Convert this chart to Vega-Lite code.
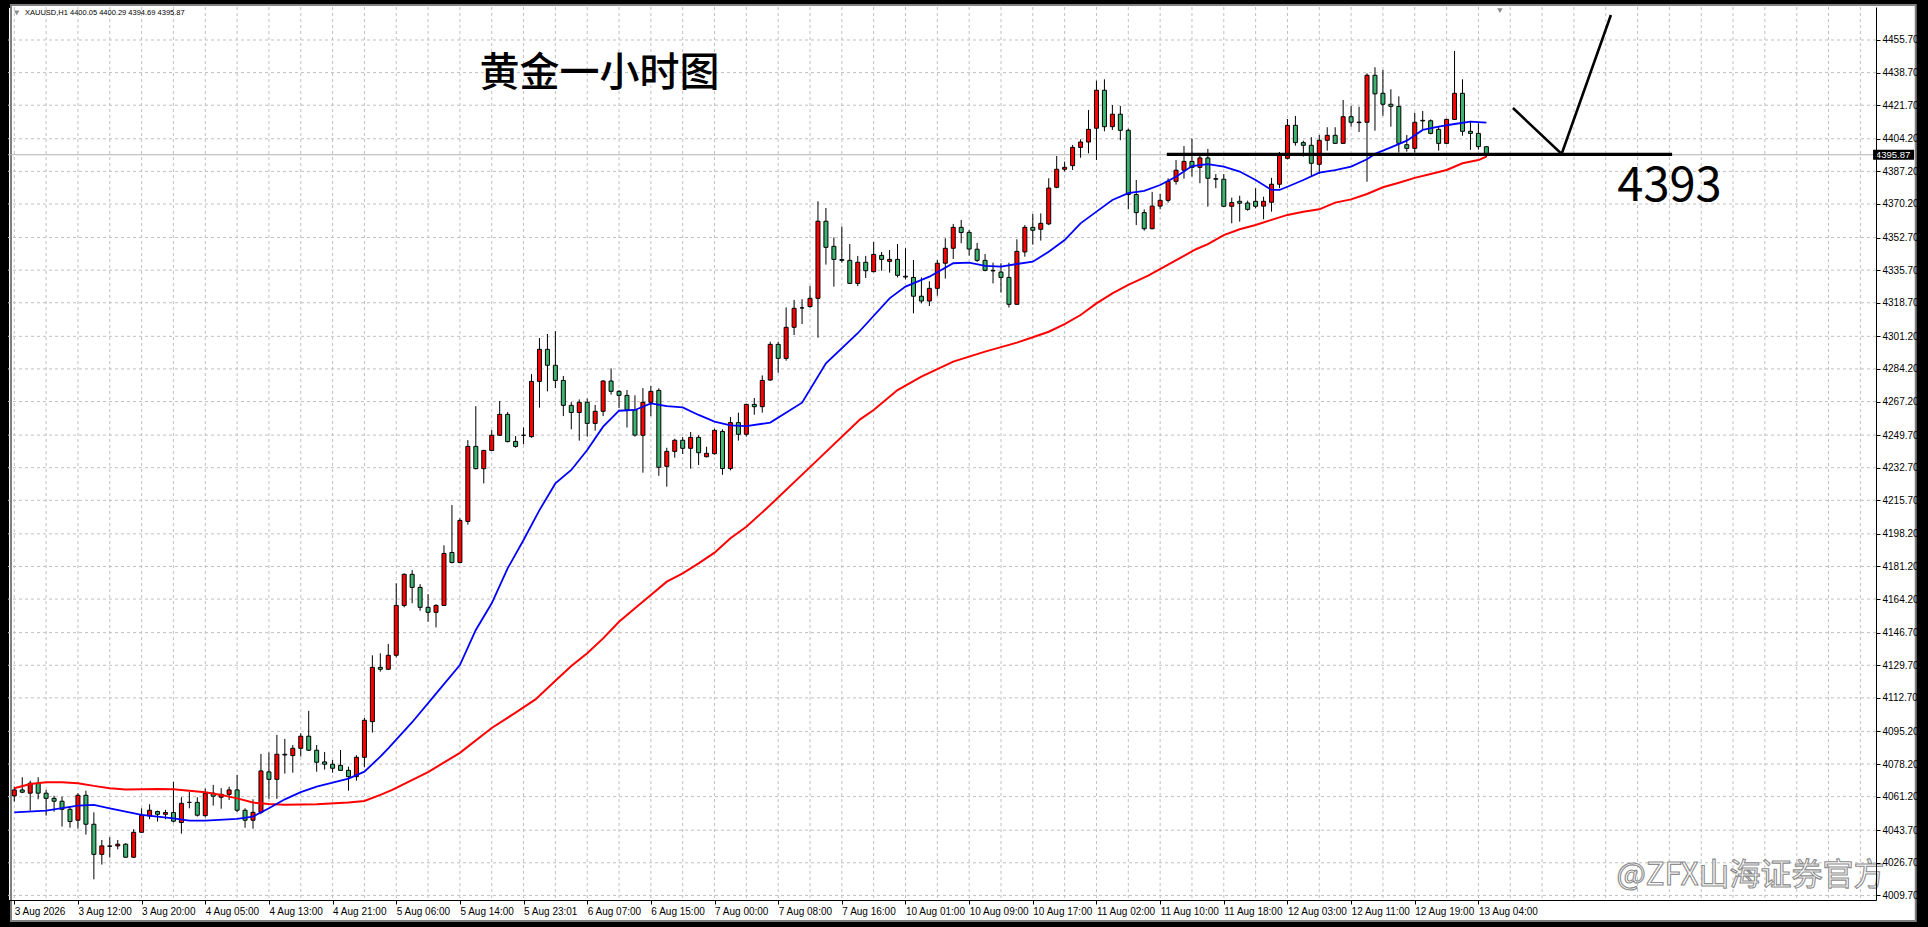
{
  "$schema": "https://vega.github.io/schema/vega-lite/v6.json",
  "width": 1868,
  "height": 893,
  "autosize": {"type": "none"},
  "padding": {"left": 8, "top": 7, "right": 52, "bottom": 27},
  "background": "#000000",
  "view": {"fill": "#ffffff", "stroke": "#000000", "strokeWidth": 1},
  "config": {"font": "Liberation Sans, sans-serif"},
  "datasets": {
    "candles": [
      {"n":0,"o":4061.6,"h":4066.4,"l":4058.6,"c":4064.7},
      {"n":1,"o":4064.7,"h":4071.3,"l":4063.0,"c":4063.5},
      {"n":2,"o":4063.0,"h":4069.5,"l":4053.9,"c":4068.2},
      {"n":3,"o":4068.2,"h":4071.3,"l":4059.8,"c":4063.0},
      {"n":4,"o":4063.0,"h":4064.7,"l":4051.3,"c":4060.3},
      {"n":5,"o":4060.3,"h":4061.6,"l":4053.4,"c":4058.8},
      {"n":6,"o":4058.8,"h":4061.2,"l":4045.6,"c":4054.6},
      {"n":7,"o":4054.6,"h":4056.0,"l":4045.0,"c":4048.2},
      {"n":8,"o":4048.9,"h":4063.0,"l":4044.5,"c":4061.9},
      {"n":9,"o":4061.9,"h":4064.3,"l":4041.4,"c":4046.8},
      {"n":10,"o":4046.8,"h":4053.0,"l":4018.1,"c":4031.1},
      {"n":11,"o":4031.1,"h":4038.6,"l":4025.8,"c":4035.5},
      {"n":12,"o":4035.5,"h":4040.0,"l":4029.4,"c":4035.3},
      {"n":13,"o":4035.5,"h":4038.6,"l":4033.7,"c":4036.4},
      {"n":14,"o":4036.4,"h":4036.9,"l":4029.4,"c":4029.6},
      {"n":15,"o":4029.6,"h":4044.2,"l":4029.2,"c":4042.6},
      {"n":16,"o":4042.6,"h":4055.1,"l":4042.4,"c":4051.5},
      {"n":17,"o":4051.1,"h":4057.2,"l":4049.4,"c":4054.1},
      {"n":18,"o":4053.4,"h":4053.9,"l":4048.2,"c":4052.0},
      {"n":19,"o":4052.0,"h":4054.3,"l":4049.4,"c":4052.9},
      {"n":20,"o":4052.9,"h":4068.9,"l":4047.7,"c":4048.4},
      {"n":21,"o":4047.7,"h":4060.9,"l":4041.9,"c":4057.7},
      {"n":22,"o":4058.2,"h":4063.6,"l":4055.1,"c":4058.2},
      {"n":23,"o":4058.2,"h":4060.9,"l":4050.8,"c":4051.5},
      {"n":24,"o":4051.3,"h":4065.4,"l":4050.4,"c":4063.0},
      {"n":25,"o":4063.0,"h":4067.3,"l":4056.5,"c":4061.4},
      {"n":26,"o":4060.9,"h":4065.6,"l":4054.9,"c":4062.4},
      {"n":27,"o":4062.4,"h":4066.4,"l":4059.5,"c":4064.7},
      {"n":28,"o":4064.7,"h":4072.5,"l":4053.2,"c":4054.1},
      {"n":29,"o":4054.1,"h":4055.1,"l":4045.0,"c":4048.9},
      {"n":30,"o":4048.9,"h":4059.8,"l":4044.5,"c":4053.0},
      {"n":31,"o":4053.0,"h":4083.5,"l":4052.0,"c":4074.6},
      {"n":32,"o":4074.1,"h":4084.2,"l":4060.0,"c":4070.2},
      {"n":33,"o":4070.2,"h":4093.4,"l":4060.0,"c":4083.3},
      {"n":34,"o":4083.3,"h":4091.3,"l":4073.2,"c":4082.9},
      {"n":35,"o":4082.6,"h":4088.1,"l":4073.7,"c":4086.4},
      {"n":36,"o":4086.4,"h":4094.2,"l":4082.1,"c":4092.7},
      {"n":37,"o":4092.7,"h":4105.9,"l":4085.0,"c":4085.4},
      {"n":38,"o":4085.4,"h":4088.1,"l":4074.2,"c":4079.1},
      {"n":39,"o":4079.3,"h":4084.5,"l":4075.3,"c":4078.1},
      {"n":40,"o":4078.1,"h":4080.3,"l":4073.7,"c":4076.0},
      {"n":41,"o":4077.5,"h":4085.5,"l":4074.6,"c":4074.9},
      {"n":42,"o":4074.9,"h":4076.8,"l":4064.3,"c":4071.6},
      {"n":43,"o":4071.6,"h":4082.8,"l":4069.5,"c":4081.7},
      {"n":44,"o":4081.7,"h":4102.2,"l":4076.5,"c":4101.0},
      {"n":45,"o":4100.3,"h":4134.9,"l":4094.6,"c":4128.6},
      {"n":46,"o":4128.6,"h":4135.9,"l":4126.4,"c":4127.6},
      {"n":47,"o":4127.6,"h":4140.8,"l":4127.2,"c":4134.9},
      {"n":48,"o":4134.9,"h":4172.4,"l":4133.8,"c":4160.9},
      {"n":49,"o":4160.9,"h":4177.6,"l":4159.9,"c":4177.1},
      {"n":50,"o":4177.1,"h":4179.3,"l":4162.0,"c":4170.3},
      {"n":51,"o":4170.3,"h":4172.0,"l":4158.1,"c":4159.9},
      {"n":52,"o":4159.9,"h":4166.8,"l":4152.4,"c":4157.3},
      {"n":53,"o":4157.3,"h":4161.5,"l":4149.4,"c":4160.9},
      {"n":54,"o":4160.9,"h":4192.2,"l":4160.6,"c":4188.0},
      {"n":55,"o":4188.5,"h":4213.2,"l":4182.8,"c":4183.3},
      {"n":56,"o":4183.3,"h":4206.3,"l":4182.8,"c":4205.2},
      {"n":57,"o":4204.7,"h":4247.1,"l":4203.0,"c":4243.8},
      {"n":58,"o":4243.8,"h":4264.8,"l":4231.8,"c":4232.2},
      {"n":59,"o":4232.2,"h":4242.0,"l":4224.5,"c":4241.7},
      {"n":60,"o":4241.7,"h":4252.3,"l":4241.4,"c":4249.6},
      {"n":61,"o":4249.6,"h":4267.5,"l":4249.2,"c":4260.5},
      {"n":62,"o":4260.5,"h":4261.7,"l":4245.9,"c":4246.3},
      {"n":63,"o":4246.4,"h":4249.2,"l":4243.1,"c":4243.8},
      {"n":64,"o":4249.6,"h":4253.7,"l":4244.9,"c":4249.6},
      {"n":65,"o":4248.9,"h":4281.5,"l":4248.3,"c":4277.7},
      {"n":66,"o":4277.7,"h":4300.3,"l":4264.0,"c":4294.4},
      {"n":67,"o":4294.4,"h":4302.4,"l":4272.5,"c":4286.1},
      {"n":68,"o":4286.1,"h":4303.9,"l":4274.2,"c":4278.2},
      {"n":69,"o":4278.2,"h":4280.5,"l":4259.6,"c":4265.2},
      {"n":70,"o":4265.2,"h":4266.9,"l":4252.7,"c":4261.5},
      {"n":71,"o":4261.5,"h":4268.3,"l":4246.8,"c":4266.8},
      {"n":72,"o":4266.8,"h":4268.7,"l":4248.9,"c":4255.8},
      {"n":73,"o":4255.8,"h":4265.4,"l":4252.0,"c":4262.1},
      {"n":74,"o":4262.1,"h":4278.4,"l":4259.6,"c":4277.9},
      {"n":75,"o":4277.9,"h":4284.5,"l":4270.8,"c":4272.5},
      {"n":76,"o":4272.5,"h":4273.2,"l":4263.8,"c":4270.4},
      {"n":77,"o":4270.4,"h":4273.2,"l":4253.6,"c":4262.9},
      {"n":78,"o":4262.9,"h":4270.4,"l":4248.9,"c":4249.7},
      {"n":79,"o":4249.6,"h":4274.2,"l":4230.1,"c":4266.8},
      {"n":80,"o":4266.8,"h":4275.3,"l":4259.6,"c":4272.5},
      {"n":81,"o":4273.0,"h":4274.1,"l":4228.5,"c":4232.9},
      {"n":82,"o":4233.4,"h":4243.1,"l":4222.8,"c":4241.2},
      {"n":83,"o":4241.2,"h":4247.8,"l":4237.9,"c":4247.0},
      {"n":84,"o":4247.0,"h":4248.7,"l":4239.8,"c":4242.8},
      {"n":85,"o":4242.8,"h":4251.3,"l":4232.2,"c":4248.5},
      {"n":86,"o":4248.5,"h":4249.6,"l":4234.1,"c":4240.5},
      {"n":87,"o":4238.4,"h":4243.6,"l":4238.1,"c":4240.2},
      {"n":88,"o":4240.0,"h":4253.1,"l":4239.5,"c":4252.2},
      {"n":89,"o":4251.6,"h":4252.7,"l":4229.0,"c":4232.3},
      {"n":90,"o":4232.3,"h":4259.1,"l":4231.3,"c":4256.2},
      {"n":91,"o":4256.2,"h":4261.4,"l":4246.8,"c":4250.1},
      {"n":92,"o":4250.1,"h":4266.0,"l":4248.9,"c":4265.7},
      {"n":93,"o":4265.7,"h":4269.0,"l":4260.3,"c":4264.5},
      {"n":94,"o":4264.5,"h":4280.8,"l":4261.4,"c":4278.2},
      {"n":95,"o":4278.4,"h":4298.4,"l":4278.1,"c":4297.0},
      {"n":96,"o":4297.0,"h":4298.4,"l":4282.2,"c":4289.7},
      {"n":97,"o":4289.7,"h":4316.3,"l":4288.5,"c":4305.9},
      {"n":98,"o":4305.9,"h":4320.2,"l":4301.9,"c":4315.8},
      {"n":99,"o":4316.0,"h":4320.5,"l":4307.6,"c":4316.0},
      {"n":100,"o":4316.7,"h":4327.4,"l":4316.2,"c":4321.0},
      {"n":101,"o":4321.0,"h":4371.6,"l":4300.5,"c":4361.2},
      {"n":102,"o":4361.2,"h":4368.1,"l":4338.6,"c":4347.6},
      {"n":103,"o":4348.1,"h":4352.8,"l":4327.1,"c":4341.3},
      {"n":104,"o":4341.2,"h":4358.4,"l":4339.6,"c":4340.8},
      {"n":105,"o":4340.8,"h":4349.3,"l":4328.6,"c":4328.8},
      {"n":106,"o":4328.8,"h":4343.1,"l":4327.4,"c":4339.8},
      {"n":107,"o":4339.8,"h":4343.1,"l":4331.6,"c":4335.4},
      {"n":108,"o":4334.9,"h":4350.4,"l":4334.6,"c":4343.9},
      {"n":109,"o":4343.4,"h":4345.2,"l":4335.4,"c":4341.3},
      {"n":110,"o":4340.3,"h":4346.2,"l":4334.4,"c":4341.3},
      {"n":111,"o":4341.3,"h":4349.3,"l":4331.9,"c":4333.0},
      {"n":112,"o":4332.5,"h":4347.1,"l":4330.9,"c":4332.1},
      {"n":113,"o":4331.9,"h":4341.0,"l":4313.2,"c":4322.1},
      {"n":114,"o":4322.1,"h":4331.9,"l":4318.4,"c":4319.6},
      {"n":115,"o":4319.6,"h":4329.9,"l":4317.0,"c":4326.2},
      {"n":116,"o":4326.2,"h":4341.0,"l":4322.4,"c":4339.3},
      {"n":117,"o":4339.3,"h":4352.3,"l":4331.3,"c":4347.1},
      {"n":118,"o":4347.1,"h":4359.8,"l":4341.5,"c":4358.0},
      {"n":119,"o":4358.0,"h":4361.9,"l":4349.7,"c":4355.3},
      {"n":120,"o":4355.4,"h":4356.6,"l":4343.3,"c":4346.7},
      {"n":121,"o":4346.6,"h":4349.9,"l":4340.0,"c":4340.8},
      {"n":122,"o":4340.8,"h":4344.1,"l":4335.1,"c":4335.6},
      {"n":123,"o":4335.6,"h":4339.6,"l":4328.8,"c":4335.3},
      {"n":124,"o":4334.7,"h":4339.3,"l":4324.0,"c":4331.9},
      {"n":125,"o":4331.9,"h":4339.6,"l":4316.2,"c":4317.9},
      {"n":126,"o":4317.9,"h":4351.8,"l":4317.6,"c":4345.5},
      {"n":127,"o":4345.2,"h":4359.2,"l":4342.7,"c":4358.0},
      {"n":128,"o":4358.0,"h":4365.0,"l":4349.0,"c":4356.5},
      {"n":129,"o":4357.0,"h":4365.3,"l":4351.1,"c":4360.1},
      {"n":130,"o":4359.8,"h":4383.6,"l":4359.2,"c":4378.5},
      {"n":131,"o":4378.9,"h":4395.2,"l":4378.4,"c":4388.3},
      {"n":132,"o":4388.3,"h":4392.3,"l":4387.1,"c":4389.3},
      {"n":133,"o":4390.2,"h":4401.0,"l":4387.9,"c":4399.7},
      {"n":134,"o":4399.7,"h":4403.9,"l":4394.3,"c":4402.5},
      {"n":135,"o":4402.5,"h":4419.2,"l":4396.6,"c":4409.1},
      {"n":136,"o":4409.7,"h":4434.5,"l":4393.1,"c":4429.5},
      {"n":137,"o":4429.5,"h":4435.2,"l":4408.1,"c":4410.5},
      {"n":138,"o":4410.5,"h":4421.8,"l":4408.8,"c":4417.0},
      {"n":139,"o":4417.0,"h":4421.3,"l":4403.4,"c":4408.6},
      {"n":140,"o":4408.6,"h":4409.5,"l":4367.4,"c":4375.1},
      {"n":141,"o":4375.1,"h":4382.7,"l":4359.2,"c":4365.7},
      {"n":142,"o":4365.7,"h":4367.4,"l":4356.3,"c":4357.3},
      {"n":143,"o":4357.3,"h":4376.5,"l":4357.0,"c":4369.1},
      {"n":144,"o":4369.1,"h":4375.4,"l":4367.4,"c":4372.1},
      {"n":145,"o":4372.1,"h":4383.6,"l":4370.9,"c":4382.0},
      {"n":146,"o":4382.0,"h":4393.1,"l":4380.3,"c":4387.8},
      {"n":147,"o":4387.8,"h":4400.4,"l":4383.4,"c":4392.4},
      {"n":148,"o":4392.4,"h":4404.3,"l":4384.5,"c":4389.3},
      {"n":149,"o":4389.3,"h":4395.9,"l":4381.0,"c":4394.2},
      {"n":150,"o":4394.2,"h":4398.9,"l":4368.8,"c":4383.6},
      {"n":151,"o":4383.4,"h":4385.8,"l":4378.4,"c":4383.1},
      {"n":152,"o":4383.1,"h":4385.8,"l":4368.8,"c":4369.0},
      {"n":153,"o":4369.0,"h":4373.5,"l":4360.1,"c":4370.9},
      {"n":154,"o":4371.6,"h":4374.5,"l":4361.0,"c":4370.6},
      {"n":155,"o":4370.7,"h":4371.9,"l":4366.7,"c":4367.4},
      {"n":156,"o":4371.6,"h":4378.4,"l":4367.9,"c":4369.0},
      {"n":157,"o":4369.1,"h":4374.0,"l":4362.2,"c":4371.6},
      {"n":158,"o":4371.1,"h":4383.8,"l":4366.2,"c":4380.5},
      {"n":159,"o":4380.5,"h":4397.3,"l":4378.4,"c":4395.8},
      {"n":160,"o":4394.0,"h":4414.5,"l":4393.5,"c":4411.2},
      {"n":161,"o":4411.2,"h":4416.1,"l":4400.6,"c":4402.2},
      {"n":162,"o":4402.2,"h":4403.2,"l":4394.9,"c":4400.8},
      {"n":163,"o":4400.8,"h":4405.0,"l":4384.5,"c":4391.4},
      {"n":164,"o":4390.9,"h":4406.2,"l":4385.8,"c":4403.4},
      {"n":165,"o":4403.4,"h":4410.2,"l":4398.0,"c":4406.0},
      {"n":166,"o":4406.0,"h":4410.2,"l":4401.7,"c":4401.8},
      {"n":167,"o":4401.8,"h":4424.4,"l":4401.7,"c":4415.7},
      {"n":168,"o":4415.7,"h":4421.3,"l":4410.5,"c":4412.8},
      {"n":169,"o":4412.9,"h":4420.9,"l":4407.7,"c":4412.6},
      {"n":170,"o":4412.8,"h":4438.3,"l":4381.8,"c":4437.3},
      {"n":171,"o":4437.3,"h":4441.5,"l":4408.4,"c":4427.6},
      {"n":172,"o":4427.9,"h":4440.1,"l":4416.2,"c":4422.2},
      {"n":173,"o":4422.2,"h":4430.0,"l":4410.5,"c":4421.1},
      {"n":174,"o":4421.1,"h":4426.3,"l":4397.0,"c":4401.8},
      {"n":175,"o":4401.1,"h":4406.2,"l":4397.5,"c":4399.2},
      {"n":176,"o":4399.2,"h":4417.8,"l":4397.0,"c":4412.8},
      {"n":177,"o":4413.8,"h":4418.7,"l":4408.8,"c":4413.5},
      {"n":178,"o":4413.6,"h":4414.3,"l":4406.5,"c":4407.0},
      {"n":179,"o":4409.1,"h":4410.5,"l":4398.0,"c":4401.8},
      {"n":180,"o":4401.8,"h":4414.7,"l":4401.3,"c":4414.3},
      {"n":181,"o":4414.3,"h":4450.0,"l":4414.0,"c":4427.9},
      {"n":182,"o":4427.9,"h":4435.2,"l":4405.8,"c":4408.1},
      {"n":183,"o":4408.1,"h":4413.5,"l":4398.4,"c":4407.0},
      {"n":184,"o":4407.0,"h":4412.3,"l":4398.5,"c":4400.1},
      {"n":185,"o":4400.05,"h":4400.29,"l":4394.69,"c":4395.87}
    ],
    "maFast": [
      {"n":0,"v":4053.0},{"n":4,"v":4053.9},{"n":8,"v":4056.5},{"n":10,"v":4056.9},{"n":12,"v":4055.1},
      {"n":16,"v":4051.7},{"n":20,"v":4049.9},{"n":22,"v":4048.7},{"n":24,"v":4048.7},{"n":28,"v":4049.6},
      {"n":30,"v":4050.8},{"n":32,"v":4055.1},{"n":34,"v":4059.8},{"n":36,"v":4063.5},{"n":38,"v":4066.4},
      {"n":40,"v":4068.5},{"n":42,"v":4070.6},{"n":44,"v":4074.2},{"n":46,"v":4082.1},{"n":47,"v":4086.4},
      {"n":50,"v":4100.0},{"n":52.4,"v":4111.9},{"n":56,"v":4129.8},{"n":58,"v":4148.1},{"n":60,"v":4162.0},
      {"n":62,"v":4180.2},{"n":64,"v":4195.0},{"n":66,"v":4210.6},{"n":68,"v":4224.5},{"n":70,"v":4231.5},
      {"n":72,"v":4241.9},{"n":74,"v":4254.1},{"n":76,"v":4262.4},{"n":78,"v":4262.8},{"n":80,"v":4266.2},
      {"n":82,"v":4264.8},{"n":84,"v":4264.1},{"n":86,"v":4260.2},{"n":88,"v":4256.7},{"n":90,"v":4254.8},
      {"n":92,"v":4254.4},{"n":95,"v":4256.2},{"n":99,"v":4266.6},{"n":102,"v":4287.1},{"n":106,"v":4302.8},
      {"n":110,"v":4321.0},{"n":112,"v":4327.1},{"n":115,"v":4332.3},{"n":118,"v":4339.3},{"n":120,"v":4339.6},
      {"n":122,"v":4337.9},{"n":124,"v":4337.5},{"n":126,"v":4338.9},{"n":128,"v":4340.1},{"n":130,"v":4345.3},
      {"n":132,"v":4351.4},{"n":134,"v":4360.1},{"n":136,"v":4366.2},{"n":138,"v":4372.3},{"n":140,"v":4375.8},
      {"n":142,"v":4377.0},{"n":144,"v":4380.1},{"n":146,"v":4384.4},{"n":148,"v":4390.0},{"n":150,"v":4391.0},
      {"n":152,"v":4389.7},{"n":154,"v":4387.1},{"n":156,"v":4382.7},{"n":158,"v":4377.5},{"n":159,"v":4377.5},
      {"n":160,"v":4379.2},{"n":162,"v":4382.7},{"n":164,"v":4386.5},{"n":166,"v":4387.9},{"n":168,"v":4389.7},
      {"n":170,"v":4393.5},{"n":171,"v":4396.3},{"n":173,"v":4399.7},{"n":175,"v":4403.2},{"n":177,"v":4408.8},
      {"n":179,"v":4410.5},{"n":181,"v":4411.9},{"n":183,"v":4413.1},{"n":185,"v":4412.6}
    ],
    "maSlow": [
      {"n":0,"v":4065.6},{"n":2,"v":4067.8},{"n":4,"v":4068.7},{"n":6,"v":4068.7},{"n":8,"v":4068.2},
      {"n":10,"v":4066.8},{"n":12,"v":4065.6},{"n":14,"v":4064.9},{"n":18,"v":4065.2},{"n":20,"v":4065.0},
      {"n":22,"v":4064.3},{"n":24,"v":4063.5},{"n":26,"v":4062.1},{"n":28,"v":4060.3},{"n":30,"v":4058.1},
      {"n":32,"v":4057.4},{"n":34,"v":4056.9},{"n":38,"v":4057.2},{"n":42,"v":4058.1},{"n":44,"v":4058.9},
      {"n":46,"v":4062.1},{"n":47.5,"v":4064.7},{"n":52,"v":4074.0},{"n":56,"v":4084.0},{"n":60,"v":4097.0},
      {"n":63,"v":4105.0},{"n":65.5,"v":4111.9},{"n":68,"v":4121.6},{"n":70,"v":4129.3},{"n":72,"v":4135.9},
      {"n":74,"v":4143.7},{"n":76,"v":4152.4},{"n":78,"v":4159.4},{"n":80,"v":4166.3},{"n":82,"v":4173.3},
      {"n":84,"v":4177.6},{"n":86,"v":4182.8},{"n":88,"v":4188.4},{"n":90,"v":4195.9},{"n":92,"v":4201.9},
      {"n":95,"v":4213.2},{"n":100,"v":4233.0},{"n":106.3,"v":4257.9},{"n":108,"v":4262.8},{"n":111,"v":4273.2},
      {"n":114,"v":4280.2},{"n":118,"v":4288.0},{"n":122,"v":4293.2},{"n":126,"v":4297.9},{"n":128,"v":4300.7},
      {"n":130,"v":4303.6},{"n":132,"v":4307.6},{"n":134,"v":4312.3},{"n":136,"v":4318.4},{"n":138,"v":4323.6},
      {"n":140,"v":4328.0},{"n":142.5,"v":4332.8},{"n":148.5,"v":4346.6},{"n":150,"v":4349.3},{"n":152,"v":4354.0},
      {"n":154,"v":4357.0},{"n":156,"v":4359.2},{"n":158,"v":4361.9},{"n":160,"v":4364.5},{"n":162,"v":4366.2},
      {"n":164,"v":4367.4},{"n":166,"v":4370.9},{"n":168,"v":4372.6},{"n":170,"v":4375.4},{"n":172,"v":4378.9},
      {"n":174,"v":4381.3},{"n":176,"v":4383.8},{"n":178,"v":4385.8},{"n":180,"v":4387.9},{"n":182,"v":4391.4},
      {"n":184,"v":4393.1},{"n":185,"v":4394.9}
    ],
    "gridX": [
      {"n":0},{"n":4},{"n":8},{"n":12},{"n":16},{"n":20},{"n":24},{"n":28},{"n":32},{"n":36},
      {"n":40},{"n":44},{"n":48},{"n":52},{"n":56},{"n":60},{"n":64},{"n":68},{"n":72},{"n":76},
      {"n":80},{"n":84},{"n":88},{"n":92},{"n":96},{"n":100},{"n":104},{"n":108},{"n":112},{"n":116},
      {"n":120},{"n":124},{"n":128},{"n":132},{"n":136},{"n":140},{"n":144},{"n":148},{"n":152},{"n":156},
      {"n":160},{"n":164},{"n":168},{"n":172},{"n":176},{"n":180},{"n":184},{"n":188},{"n":192},{"n":196},
      {"n":200},{"n":204},{"n":208},{"n":212},{"n":216},{"n":220},{"n":224},{"n":228},{"n":232}
    ],
    "gridY": [
      {"v":4455.7},{"v":4438.7},{"v":4421.7},{"v":4404.2},{"v":4387.2},{"v":4370.2},{"v":4352.7},
      {"v":4335.7},{"v":4318.7},{"v":4301.2},{"v":4284.2},{"v":4267.2},{"v":4249.7},{"v":4232.7},
      {"v":4215.7},{"v":4198.2},{"v":4181.2},{"v":4164.2},{"v":4146.7},{"v":4129.7},{"v":4112.7},
      {"v":4095.2},{"v":4078.2},{"v":4061.2},{"v":4043.7},{"v":4026.7},{"v":4009.7}
    ]
  },
  "encoding": {
    "x": {
      "type": "quantitative",
      "title": null,
      "scale": {"domain": [-0.1625, 233.3375], "nice": false, "zero": false},
      "axis": {
        "values": [0, 8, 16, 24, 32, 40, 48, 56, 64, 72, 80, 88, 96, 104, 112, 120, 128, 136, 144, 152, 160, 168, 176, 184],
        "labelExpr": "['3 Aug 2026','3 Aug 12:00','3 Aug 20:00','4 Aug 05:00','4 Aug 13:00','4 Aug 21:00','5 Aug 06:00','5 Aug 14:00','5 Aug 23:01','6 Aug 07:00','6 Aug 15:00','7 Aug 00:00','7 Aug 08:00','7 Aug 16:00','10 Aug 01:00','10 Aug 09:00','10 Aug 17:00','11 Aug 02:00','11 Aug 10:00','11 Aug 18:00','12 Aug 03:00','12 Aug 11:00','12 Aug 19:00','13 Aug 04:00'][round(datum.value / 8)]",
        "title": null,
        "grid": false,
        "zindex": 1,
        "labelAlign": "left",
        "labelBaseline": "top",
        "labelDx": 1,
        "labelPadding": 2,
        "labelFontSize": 10,
        "labelColor": "#000000",
        "labelOverlap": false,
        "labelFlush": false,
        "labelBound": false,
        "tickColor": "#000000",
        "tickSize": 4,
        "domainColor": "#000000"
      }
    },
    "y": {
      "type": "quantitative",
      "title": null,
      "scale": {"domain": [4007.3, 4472.9], "nice": false, "zero": false},
      "axis": {
        "orient": "right",
        "values": [4455.7, 4438.7, 4421.7, 4404.2, 4387.2, 4370.2, 4352.7, 4335.7, 4318.7, 4301.2, 4284.2, 4267.2, 4249.7, 4232.7, 4215.7, 4198.2, 4181.2, 4164.2, 4146.7, 4129.7, 4112.7, 4095.2, 4078.2, 4061.2, 4043.7, 4026.7, 4009.7],
        "format": ".2f",
        "title": null,
        "grid": false,
        "zindex": 1,
        "labelAlign": "left",
        "labelBaseline": "middle",
        "labelPadding": 2,
        "labelFontSize": 10,
        "labelColor": "#000000",
        "labelOverlap": false,
        "labelFlush": false,
        "labelBound": false,
        "tickColor": "#000000",
        "tickSize": 4,
        "domainColor": "#000000"
      }
    }
  },
  "layer": [
    {
      "data": {"values": [{"n1": -0.4125, "n2": 238.96, "p1": 4473.9, "p2": 3996.4}]},
      "mark": {"type": "rect", "fill": "#ffffff", "stroke": "#808080", "strokeWidth": 2},
      "encoding": {
        "x": {"field": "n1"},
        "x2": {"field": "n2"},
        "y": {"field": "p1"},
        "y2": {"field": "p2"}
      }
    },
    {
      "data": {"name": "gridX"},
      "mark": {"type": "rule", "color": "#c0c0c0", "strokeWidth": 1, "strokeDash": [3, 3]},
      "encoding": {
        "x": {"field": "n"},
        "y": null
      }
    },
    {
      "data": {"name": "gridY"},
      "mark": {"type": "rule", "color": "#c0c0c0", "strokeWidth": 1, "strokeDash": [3, 3]},
      "encoding": {
        "x": null,
        "y": {"field": "v"}
      }
    },
    {
      "data": {"values": [{"p": 4395.87}]},
      "mark": {"type": "rule", "color": "#b4b4b4", "strokeWidth": 1},
      "encoding": {
        "x": null,
        "y": {"field": "p"}
      }
    },
    {
      "data": {"name": "candles"},
      "mark": {"type": "rule", "color": "#000000", "strokeWidth": 1},
      "encoding": {
        "x": {"field": "n"},
        "y": {"field": "l"},
        "y2": {"field": "h"}
      }
    },
    {
      "data": {"name": "candles"},
      "mark": {"type": "bar", "orient": "vertical", "width": 4, "stroke": "#000000", "strokeWidth": 1},
      "encoding": {
        "x": {"field": "n"},
        "y": {"field": "o"},
        "y2": {"field": "c"},
        "color": {"condition": {"test": "datum.c > datum.o", "value": "#ff0000"}, "value": "#3cb371"}
      }
    },
    {
      "data": {"name": "maSlow"},
      "mark": {"type": "line", "color": "#ff0000", "strokeWidth": 2},
      "encoding": {
        "x": {"field": "n"},
        "y": {"field": "v"}
      }
    },
    {
      "data": {"name": "maFast"},
      "mark": {"type": "line", "color": "#0000ff", "strokeWidth": 1.8},
      "encoding": {
        "x": {"field": "n"},
        "y": {"field": "v"}
      }
    },
    {
      "data": {"values": [{"n1": 144.84, "n2": 208.34, "p": 4396.05}]},
      "mark": {"type": "rule", "color": "#000000", "strokeWidth": 3.3},
      "encoding": {
        "x": {"field": "n1"},
        "x2": {"field": "n2"},
        "y": {"field": "p"}
      }
    },
    {
      "data": {"values": [{"i": 1, "n": 188.34, "p": 4420.24}, {"i": 2, "n": 194.46, "p": 4396.26}, {"i": 3, "n": 200.65, "p": 4468.73}]},
      "mark": {"type": "line", "color": "#000000", "strokeWidth": 2.6},
      "encoding": {
        "x": {"field": "n"},
        "y": {"field": "p"},
        "order": {"field": "i", "type": "quantitative"}
      }
    },
    {
      "data": {"values": [{"n": 58.46, "p": 4437.97, "t": "黄金一小时图"}]},
      "mark": {"type": "text", "font": "Noto Sans CJK SC", "fontSize": 40, "fontWeight": 500, "align": "left", "baseline": "middle", "color": "#000000"},
      "encoding": {
        "x": {"field": "n"},
        "y": {"field": "p"},
        "text": {"field": "t"}
      }
    },
    {
      "data": {"values": [{"n": 201.46, "p": 4379.05, "t": "4393"}]},
      "mark": {"type": "text", "font": "Noto Sans CJK SC", "fontSize": 47, "align": "left", "baseline": "middle", "color": "#000000"},
      "encoding": {
        "x": {"field": "n"},
        "y": {"field": "p"},
        "text": {"field": "t"}
      }
    },
    {
      "data": {"values": [{"n": 1.34, "p": 4469.8, "t": "XAUUSD,H1  4400.05 4400.29 4394.69 4395.87"}]},
      "mark": {"type": "text", "fontSize": 7.5, "align": "left", "baseline": "middle", "color": "#000000"},
      "encoding": {
        "x": {"field": "n"},
        "y": {"field": "p"},
        "text": {"field": "t"}
      }
    },
    {
      "data": {"values": [{"n": 0.3, "p": 4469.8}, {"n": 186.7, "p": 4471.0}]},
      "mark": {"type": "point", "shape": "triangle-down", "filled": true, "size": 30, "color": "#8c8c8c", "opacity": 1},
      "encoding": {
        "x": {"field": "n"},
        "y": {"field": "p"}
      }
    },
    {
      "data": {"values": [{"n": 201.34, "p": 4020.0, "t": "@ZFX山海证券官方"}]},
      "mark": {"type": "text", "font": "Noto Sans CJK SC", "fontSize": 31, "align": "left", "baseline": "middle", "fill": "#ffffff", "stroke": "#8c8c8c", "strokeWidth": 1.1},
      "encoding": {
        "x": {"field": "n"},
        "y": {"field": "p"},
        "text": {"field": "t"}
      }
    },
    {
      "data": {"values": [{"n1": 233.6, "n2": 238.75, "p1": 4398.5, "p2": 4393.2}]},
      "mark": {"type": "rect", "fill": "#000000"},
      "encoding": {
        "x": {"field": "n1"},
        "x2": {"field": "n2"},
        "y": {"field": "p1"},
        "y2": {"field": "p2"}
      }
    },
    {
      "data": {"values": [{"n": 233.95, "p": 4395.87, "t": "4395.87"}]},
      "mark": {"type": "text", "fontSize": 9.5, "align": "left", "baseline": "middle", "color": "#ffffff"},
      "encoding": {
        "x": {"field": "n"},
        "y": {"field": "p"},
        "text": {"field": "t"}
      }
    }
  ]
}
